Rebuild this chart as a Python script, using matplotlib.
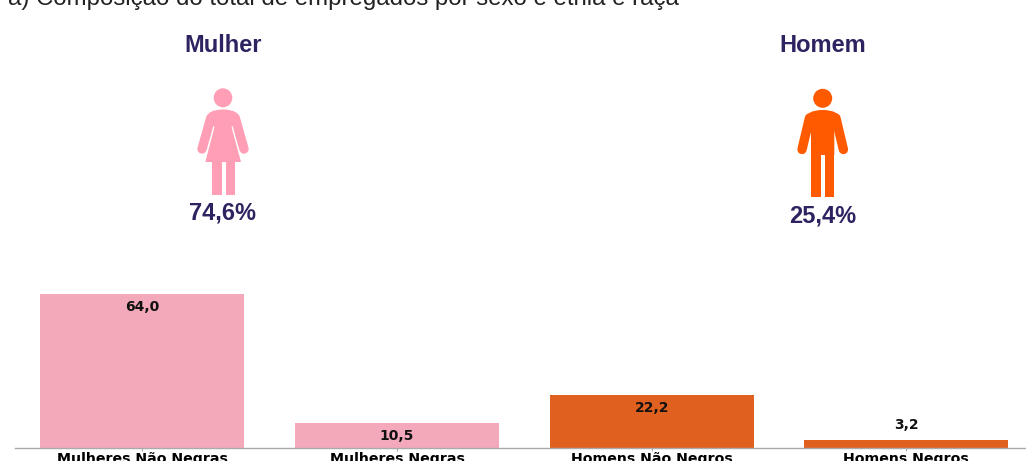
import matplotlib
matplotlib.use("Agg")
import matplotlib.pyplot as plt
from matplotlib.path import Path
from matplotlib.patches import PathPatch, Ellipse, Rectangle

categories = ["Mulheres Não Negras", "Mulheres Negras", "Homens Não Negros", "Homens Negros"]
values = [64.0, 10.5, 22.2, 3.2]
value_labels = ["64,0", "10,5", "22,2", "3,2"]
title = "a) Composição do total de empregados por sexo e etnia e raça"
groups = ["Mulher", "Homem"]
shares = ["74,6%", "25,4%"]

BAR_W, BAR_M = "#f4a9bb", "#e06020"
ICON_W, ICON_M = "#ff9eb5", "#ff5a00"
INK = "#2e2260"
W, H = 1026, 461

fig = plt.figure(figsize=(W / 100, H / 100), dpi=100, facecolor="white")
ax = fig.add_axes([15 / W, 13 / H, (W - 15) / W, 198 / H])
ax.bar(range(4), values, width=0.8, color=[BAR_W, BAR_W, BAR_M, BAR_M])
ax.set_xlim(-0.5, 3.47)
ax.set_ylim(0, 198 / 2.406)
ax.set_yticks([])
ax.set_xticks(range(4))
ax.set_xticklabels(categories, fontsize=10.2, fontweight="bold", family="DejaVu Sans")
ax.tick_params(axis="x", length=2, width=0.8, color="#aaaaaa", pad=1.2)
for s in ("top", "left", "right"):
    ax.spines[s].set_visible(False)
ax.spines["bottom"].set_color("#aaaaaa")
ax.spines["bottom"].set_linewidth(1.0)
for i, (v, lab) in enumerate(zip(values, value_labels)):
    off = 15 * 0.72 if v < 5 else -13 * 0.72
    ax.annotate(lab, (i, v), xytext=(0, off), textcoords="offset points", ha="center", va="center",
                fontsize=10, fontweight="bold", family="DejaVu Sans", color="#111111")

ov = fig.add_axes([0, 0, 1, 1], facecolor="none")
ov.set_xlim(0, W)
ov.set_ylim(H, 0)
ov.axis("off")

ov.text(8, 4.5, title, fontsize=17.3, family="Liberation Sans", color="#222222", va="baseline", ha="left")
for x, g, s, y in zip((223, 823), groups, shares, (213, 216)):
    ov.text(x, 45, g, fontsize=17, fontweight="bold", family="Liberation Sans", color=INK, ha="center", va="center")
    ov.text(x, y, s, fontsize=17, fontweight="bold", family="Liberation Sans", color=INK, ha="center", va="center")


def limb(x0, y0, x1, y1, color, w):
    ov.plot([x0, x1], [y0, y1], color=color, lw=w * 0.72, solid_capstyle="round")


TORSO_CODES = [Path.MOVETO, Path.CURVE3, Path.CURVE3, Path.LINETO, Path.LINETO, Path.LINETO, Path.LINETO,
               Path.LINETO, Path.CURVE3, Path.CURVE3, Path.CLOSEPOLY]

# woman
ov.add_patch(Ellipse((223, 97.8), 18.6, 19, fc=ICON_W, ec="none"))
limb(210.8, 118, 202, 149, ICON_W, 9.4)
limb(235.2, 118, 244, 149, ICON_W, 9.4)
ov.add_patch(PathPatch(Path(
    [(223, 109.5), (207, 109.5), (206.3, 119), (214.5, 127), (205.3, 162), (241, 162), (231.5, 127),
     (239.7, 119), (239, 109.5), (223, 109.5), (223, 109.5)],
    TORSO_CODES), fc=ICON_W, ec="none"))
ov.add_patch(Rectangle((211.7, 160), 9.8, 35, fc=ICON_W, ec="none"))
ov.add_patch(Rectangle((225.5, 160), 9.6, 35, fc=ICON_W, ec="none"))

# man
ov.add_patch(Ellipse((822.7, 98.3), 19, 19, fc=ICON_M, ec="none"))
limb(809.5, 118, 802, 149.5, ICON_M, 9.4)
limb(835.9, 118, 843.4, 149.5, ICON_M, 9.4)
ov.add_patch(PathPatch(Path(
    [(822.7, 110), (806, 110), (805, 120), (811, 130), (811, 155), (834.3, 155), (834.3, 130),
     (840.4, 120), (839.4, 110), (822.7, 110), (822.7, 110)],
    TORSO_CODES), fc=ICON_M, ec="none"))
ov.add_patch(Rectangle((811, 150), 9.7, 46.7, fc=ICON_M, ec="none"))
ov.add_patch(Rectangle((824.7, 150), 9.6, 46.7, fc=ICON_M, ec="none"))

fig.savefig("out.png", dpi=100)
